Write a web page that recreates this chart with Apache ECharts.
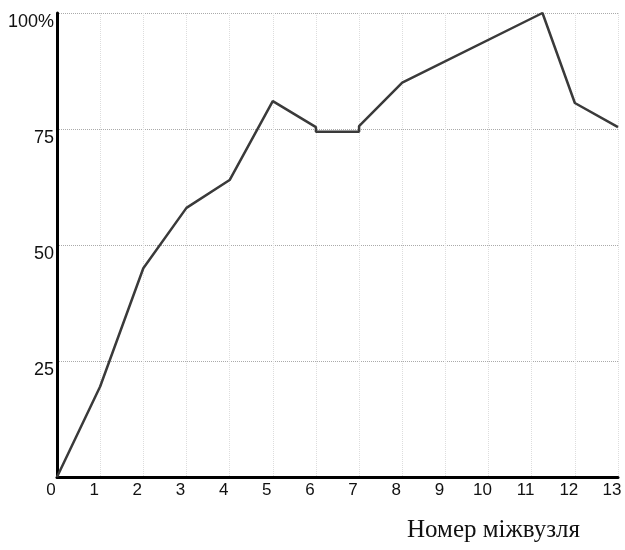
<!DOCTYPE html>
<html>
<head>
<meta charset="utf-8">
<script src="https://cdn.jsdelivr.net/npm/echarts@6/dist/echarts.min.js"></script>
<style>
  html, body { margin: 0; padding: 0; background: #fff; }
  #chart { width: 625px; height: 550px; }
</style>
</head>
<body>
<div id="chart"></div>
<script>
// номер міжвузля та відсоток
const nodeX = [0, 1, 2, 3, 4, 5, 6, 6, 7, 7, 8, 11.25, 12, 13];
const percentY = [0, 19.5, 45, 58, 64, 81, 75.4, 74.4, 74.4, 75.6, 85, 100, 80.6, 75.4];
const xTicks = [0, 1, 2, 3, 4, 5, 6, 7, 8, 9, 10, 11, 12, 13];
const yTicks = [25, 50, 75, 100];

const points = nodeX.map((x, i) => [x, percentY[i]]);

const chart = echarts.init(document.getElementById('chart'));
chart.setOption({
  animation: false,
  backgroundColor: '#fff',
  title: {
    text: 'Номер міжвузля',
    left: 402,
    top: 513,
    textStyle: { fontFamily: 'Liberation Serif', fontSize: 25, fontWeight: 'normal', color: '#111' }
  },
  grid: { left: 57, right: 7, top: 13, bottom: 73 },
  xAxis: {
    type: 'value',
    min: 0,
    max: 13,
    interval: 1,
    axisLine: { lineStyle: { color: '#000', width: 3 } },
    axisTick: { show: false },
    axisLabel: {
      margin: 5,
      padding: [0, 12, 0, 0],
      fontFamily: 'Liberation Sans',
      fontSize: 17,
      color: '#111',
      formatter: v => xTicks.includes(v) ? String(v) : ''
    },
    splitLine: { show: true, lineStyle: { color: '#ddd', type: 'dotted', width: 1 } }
  },
  yAxis: {
    type: 'value',
    min: 0,
    max: 100,
    interval: 25,
    axisLine: { show: true, lineStyle: { color: '#000', width: 3 } },
    axisTick: { show: false },
    axisLabel: {
      margin: 3,
      verticalAlign: 'top',
      showMinLabel: false,
      fontFamily: 'Liberation Sans',
      fontSize: 18,
      color: '#111',
      formatter: v => yTicks.includes(v) ? (v === 100 ? '100%' : String(v)) : ''
    },
    splitLine: { show: true, lineStyle: { color: '#aaa', type: 'dotted', width: 1 } }
  },
  series: [{
    type: 'line',
    data: points,
    showSymbol: false,
    lineStyle: { color: '#3a3a3a', width: 2.5 }
  }]
});
</script>
</body>
</html>
